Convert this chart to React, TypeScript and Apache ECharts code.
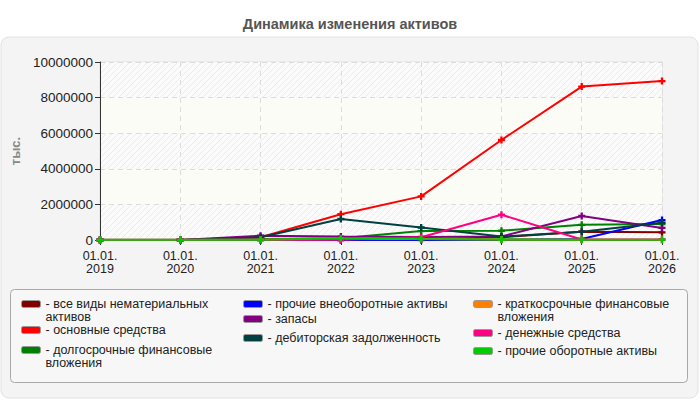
import * as echarts from "echarts"
import { useEffect, useRef } from "react"

const years = ["2019", "2020", "2021", "2022", "2023", "2024", "2025", "2026"]

const intangible = [0, 0, 0, 0, 20000, 150000, 470000, 430000]
const fixedAssets = [0, 0, 150000, 1450000, 2450000, 5620000, 8620000, 8930000]
const longTermInvest = [0, 0, 50000, 100000, 500000, 520000, 850000, 900000]
const otherNonCurrent = [0, 0, 0, 0, 0, 20000, 60000, 1120000]
const inventory = [0, 0, 240000, 190000, 170000, 200000, 1350000, 680000]
const receivables = [0, 0, 150000, 1180000, 700000, 190000, 470000, 970000]
const shortTermInvest = [0, 0, 20000, 50000, 50000, 30000, 20000, 20000]
const cash = [20000, 20000, 20000, 20000, 150000, 1420000, 30000, 30000]
const otherCurrent = [10000, 10000, 20000, 100000, 50000, 30000, 20000, 20000]

// legend text, wrapped as in the reference
const seriesDefs = [
  { name: "все виды нематериальных активов", label: "все виды нематериальных\nактивов", color: "#800000", data: intangible },
  { name: "основные средства", label: "основные средства", color: "#ff0000", data: fixedAssets },
  { name: "долгосрочные финансовые вложения", label: "долгосрочные финансовые\nвложения", color: "#008000", data: longTermInvest },
  { name: "прочие внеоборотные активы", label: "прочие внеоборотные активы", color: "#0000ff", data: otherNonCurrent },
  { name: "запасы", label: "запасы", color: "#800080", data: inventory },
  { name: "дебиторская задолженность", label: "дебиторская задолженность", color: "#004040", data: receivables },
  { name: "краткосрочные финансовые вложения", label: "краткосрочные финансовые\nвложения", color: "#ff8000", data: shortTermInvest },
  { name: "денежные средства", label: "денежные средства", color: "#ff0080", data: cash },
  { name: "прочие оборотные активы", label: "прочие оборотные активы", color: "#00cc00", data: otherCurrent },
]

// icon left x and first-line centre y of each legend entry
const legendSpots = [
  [21, 304], [21, 330], [21, 350],
  [243, 304], [243, 319], [243, 338],
  [473, 304], [473, 333], [473, 351],
]

const hatch =
  "data:image/svg+xml;utf8," +
  encodeURIComponent(
    '<svg xmlns="http://www.w3.org/2000/svg" width="6" height="6"><rect width="6" height="6" fill="#fbfbfb"/><path d="M-1,7 L7,-1 M-1,1 L1,-1 M5,7 L7,5" stroke="#ececec" stroke-width="1"/></svg>'
  )

// rounded swatch sitting at the top of a 19x20 box, so it lines up with the first of two text lines
const topSwatch = "path://M2,0H17Q19,0 19,2V5Q19,7 17,7H2Q0,7 0,5V2Q0,0 2,0ZM0,20"

const FONT = "'Liberation Sans', Arial, sans-serif"
const LH = 13

export default function App() {
  const ref = useRef<HTMLDivElement>(null)

  useEffect(() => {
    if (!ref.current) return
    const chart = echarts.init(ref.current, undefined, { renderer: "svg" })

    const legends = seriesDefs.map((s, i) => {
      const [x, y] = legendSpots[i]
      const twoLines = s.label.includes("\n")
      return {
        orient: "vertical",
        left: x,
        top: y - LH / 2,
        padding: 0,
        data: [s.name],
        icon: twoLines ? topSwatch : "roundRect",
        itemWidth: 19,
        itemHeight: twoLines ? 20 : 7,
        formatter: () => "- " + s.label,
        textStyle: { fontFamily: FONT, fontSize: 12.5, lineHeight: LH, color: "#222" },
        itemStyle: { borderColor: "#999", borderWidth: 1 },
        selectedMode: false,
      }
    })

    chart.setOption({
      animation: false,
      backgroundColor: "#fff",
      title: {
        text: "Динамика изменения активов",
        left: "center",
        top: 11,
        textStyle: { fontFamily: FONT, fontSize: 14.5, fontWeight: "bold", color: "#555" },
      },
      graphic: [
        {
          type: "rect",
          z: -10,
          shape: { x: 1, y: 37, width: 697, height: 361, r: 8 },
          style: { fill: "#f4f4f4", stroke: "#e2e2e2", lineWidth: 1 },
        },
        {
          type: "rect",
          z: -9,
          shape: { x: 10.5, y: 289.5, width: 677, height: 93, r: 4 },
          style: { fill: "#f7f7f7", stroke: "#a8a8a8", lineWidth: 1 },
        },
      ],
      grid: { left: 100, right: 38, top: 62, bottom: 160, show: true, borderColor: "#e0e0e0", borderWidth: 1, backgroundColor: "transparent" },
      legend: legends,
      xAxis: {
        type: "category",
        boundaryGap: false,
        data: years,
        axisLine: { lineStyle: { color: "#333", width: 1 } },
        axisTick: { show: true, length: 5, lineStyle: { color: "#333" } },
        axisLabel: {
          formatter: (v: string) => "01.01.\n" + v,
          color: "#222",
          fontFamily: FONT,
          fontSize: 12.5,
          lineHeight: 13.5,
          margin: 9,
        },
        splitLine: { show: true, lineStyle: { color: "#dcdcdc", type: [5, 4] } },
      },
      yAxis: {
        type: "value",
        min: 0,
        max: 10000000,
        interval: 2000000,
        name: "тыс.",
        nameLocation: "middle",
        nameRotate: 90,
        nameGap: 70,
        nameTextStyle: { fontFamily: FONT, fontSize: 13, fontWeight: "bold", color: "#888" },
        axisLine: { show: true, lineStyle: { color: "#333", width: 1 } },
        axisTick: { show: true, length: 5, lineStyle: { color: "#333" } },
        axisLabel: {
          formatter: (v: number) => String(v),
          color: "#222",
          fontFamily: FONT,
          fontSize: 13.5,
          margin: 7,
        },
        splitLine: { show: true, lineStyle: { color: "#dcdcdc", type: [5, 4] } },
        splitArea: {
          show: true,
          areaStyle: { color: [{ image: hatch, repeat: "repeat" }, "#fcfcf6"] },
        },
      },
      series: seriesDefs.map((s) => ({
        name: s.name,
        type: "line",
        data: s.data,
        color: s.color,
        symbol: "path://M2,0H4V2H6V4H4V6H2V4H0V2H2Z",
        symbolSize: 7,
        showSymbol: true,
        lineStyle: { width: 2, color: s.color },
        itemStyle: { color: s.color },
      })),
    })

    return () => chart.dispose()
  }, [])

  return <div ref={ref} style={{ position: "fixed", left: 0, top: 0, width: 700, height: 400 }} />
}
